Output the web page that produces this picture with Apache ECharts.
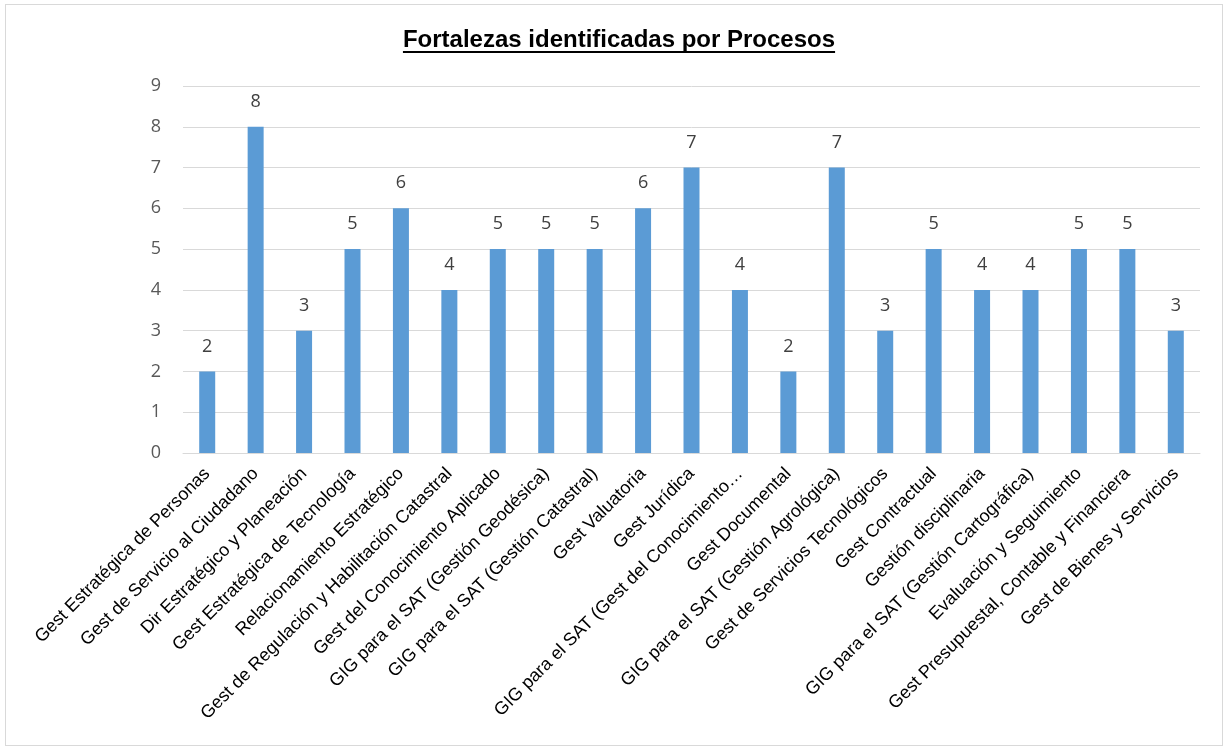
<!DOCTYPE html>
<html>
<head>
<meta charset="utf-8">
<script src="https://cdn.jsdelivr.net/npm/echarts@6/dist/echarts.min.js"></script>
<style>
  html, body { margin: 0; padding: 0; background: #fff; }
  #main { position: absolute; left: 5px; top: 4px; width: 1216px; height: 740px; border: 1px solid #d9d9d9; }
</style>
</head>
<body>
<div id="main"></div>
<script>
var categories = [
    'Gest Estratégica de Personas',
    'Gest de Servicio al Ciudadano',
    'Dir Estratégico y Planeación',
    'Gest Estratégica de Tecnología',
    'Relacionamiento Estratégico',
    'Gest de Regulación y Habilitación Catastral',
    'Gest del Conocimiento Aplicado',
    'GIG para el SAT (Gestión Geodésica)',
    'GIG para el SAT (Gestión Catastral)',
    'Gest Valuatoria',
    'Gest Jurídica',
    'GIG para el SAT (Gest del Conocimiento…',
    'Gest Documental',
    'GIG para el SAT (Gestión Agrológica)',
    'Gest de Servicios Tecnológicos',
    'Gest Contractual',
    'Gestión disciplinaria',
    'GIG para el SAT (Gestión Cartográfica)',
    'Evaluación y Seguimiento',
    'Gest Presupuestal, Contable y Financiera',
    'Gest de Bienes y Servicios'
];
var fortalezas = [2, 8, 3, 5, 6, 4, 5, 5, 5, 6, 7, 4, 2, 7, 3, 5, 4, 4, 5, 5, 3];

var titulo = 'Fortalezas identificadas por Procesos';

// ancho del título para dibujar el subrayado
var cv = document.createElement('canvas').getContext('2d');
cv.font = 'bold 24px "Liberation Sans", Arial';
var tw = cv.measureText(titulo).width;
var tcx = 613;

var chart = echarts.init(document.getElementById('main'));

var option = {
    animation: false,
    title: {
        text: titulo,
        left: tcx - tw / 2,
        top: 23,
        padding: 0,
        textStyle: {
            fontFamily: 'Liberation Sans, Arial',
            fontSize: 24,
            fontWeight: 'bold',
            color: '#000'
        }
    },
    graphic: [{
        type: 'line',
        shape: { x1: tcx - tw / 2, y1: 47, x2: tcx + tw / 2, y2: 47 },
        style: { stroke: '#000', lineWidth: 2 }
    }],
    grid: {
        left: 177,
        right: 22,
        top: 81,
        bottom: 292,
        containLabel: false
    },
    xAxis: {
        type: 'category',
        data: categories,
        axisTick: { show: false },
        axisLine: { lineStyle: { color: '#d9d9d9', width: 1 } },
        axisLabel: {
            interval: 0,
            rotate: 45,
            fontFamily: 'Liberation Sans, Arial',
            fontSize: 18,
            color: '#000',
            margin: 18
        }
    },
    yAxis: {
        type: 'value',
        min: 0,
        max: 9,
        interval: 1,
        axisLine: { show: false },
        axisTick: { show: false },
        splitLine: { lineStyle: { color: '#d9d9d9', width: 1 } },
        axisLabel: {
            fontFamily: 'Open Sans, Calibri, sans-serif',
            fontSize: 18,
            color: '#595959',
            margin: 22
        }
    },
    series: [{
        type: 'bar',
        data: fortalezas,
        barWidth: 16,
        itemStyle: { color: '#5b9bd5' },
        label: {
            show: true,
            position: 'top',
            distance: 16,
            fontFamily: 'Open Sans, Calibri, sans-serif',
            fontSize: 18,
            color: '#404040'
        }
    }]
};

chart.setOption(option);
</script>
</body>
</html>
